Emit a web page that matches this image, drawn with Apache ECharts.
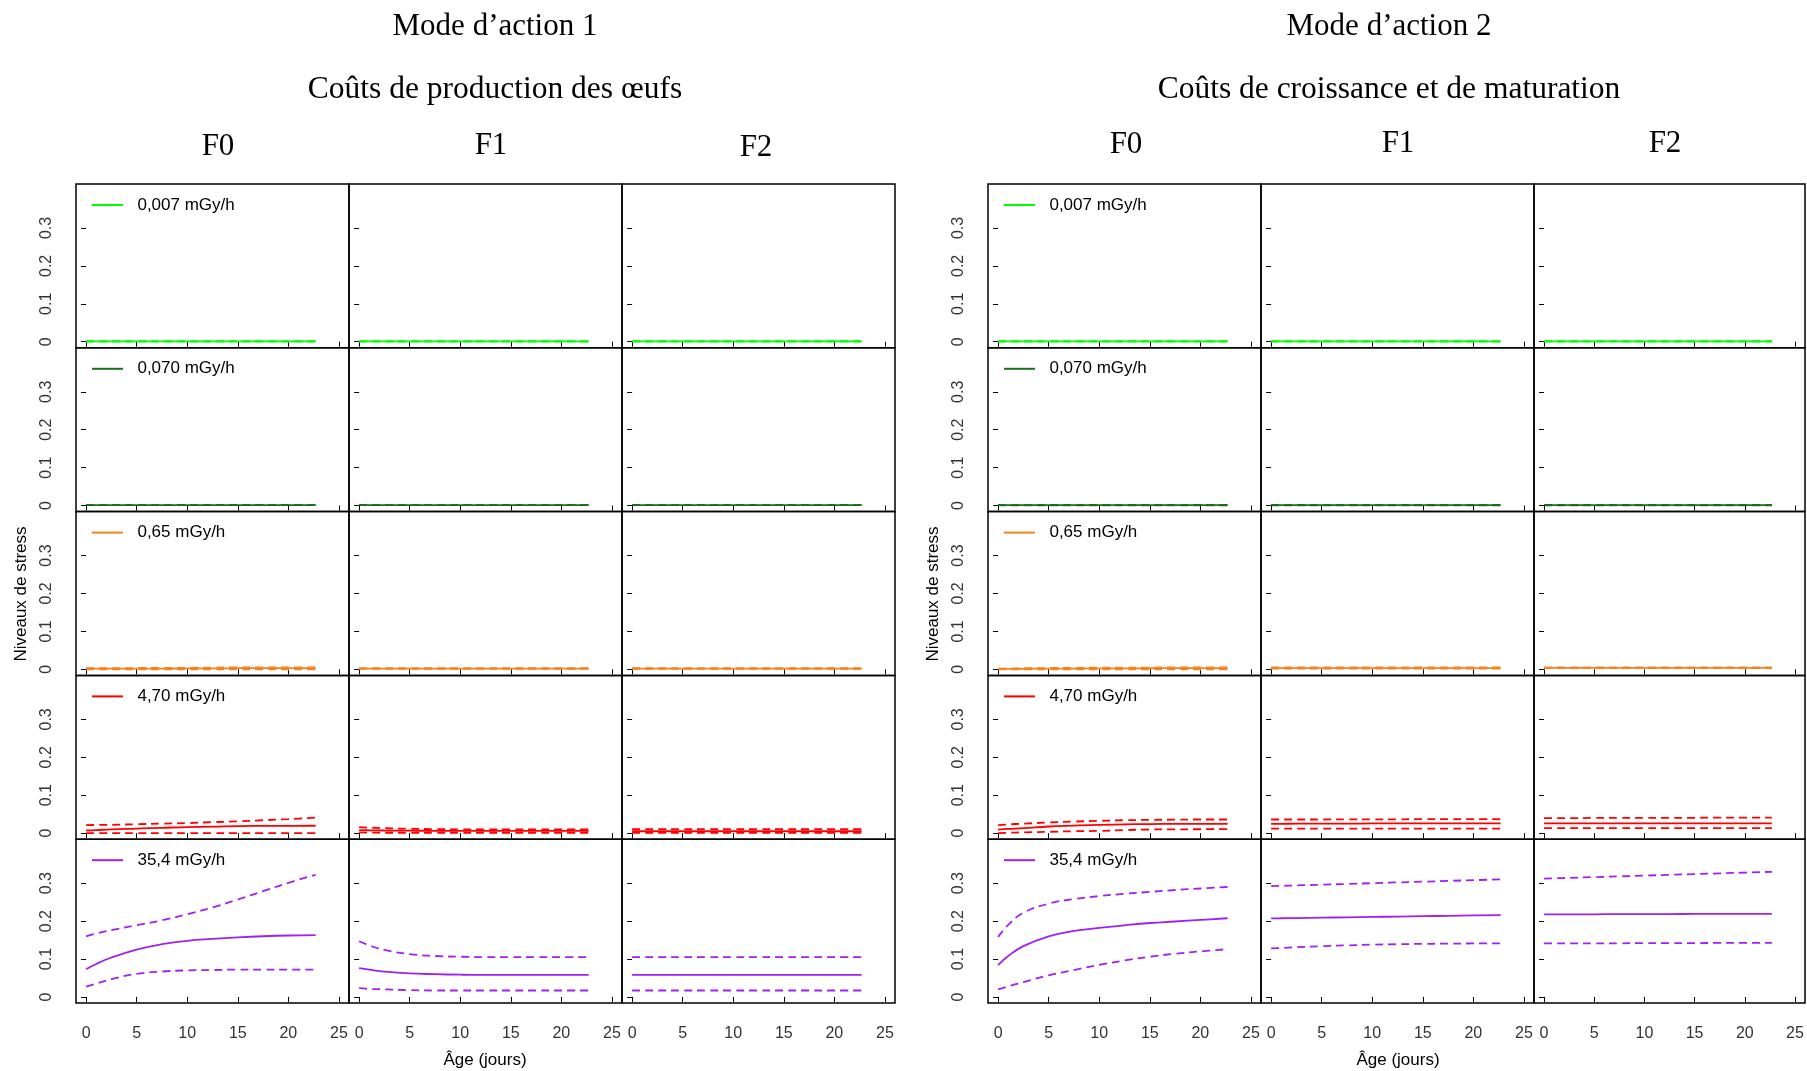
<!DOCTYPE html>
<html><head><meta charset="utf-8">
<script src="https://cdn.jsdelivr.net/npm/echarts@6/dist/echarts.min.js"></script>
<style>html,body{margin:0;padding:0;background:#fff}#c{width:1807px;height:1071px}</style>
</head><body><div id="c"></div><script>
// ---------- categories / labels ----------
var ages = [0, 1, 2.5, 5, 7.5, 10, 12.5, 15, 17.5, 20, 22.7];
var doses = ['0,007 mGy/h', '0,070 mGy/h', '0,65 mGy/h', '4,70 mGy/h', '35,4 mGy/h'];
var doseColors = ['#00ff00', '#1b6e1b', '#f5821f', '#ff0000', '#a020f0'];
var generations = ['F0', 'F1', 'F2'];
var modeTitles = ['Mode d\u2019action 1', 'Mode d\u2019action 2'];
var modeSubtitles = ['Coûts de production des œufs', 'Coûts de croissance et de maturation'];
var xTicks = [0, 5, 10, 15, 20, 25];
var yTicks = [0, 0.1, 0.2, 0.3];
var xName = 'Âge (jours)';
var yName = 'Niveaux de stress';

// ---------- Mode 1 ----------
var m1_d1_F0_mid = [0.001,0.001,0.001,0.001,0.001,0.001,0.001,0.001,0.001,0.001,0.001];
var m1_d1_F0_lo  = [0.001,0.001,0.001,0.001,0.001,0.001,0.001,0.001,0.001,0.001,0.001];
var m1_d1_F0_hi  = [0.001,0.001,0.001,0.001,0.001,0.001,0.001,0.001,0.001,0.001,0.001];
var m1_d1_F1_mid = [0.001,0.001,0.001,0.001,0.001,0.001,0.001,0.001,0.001,0.001,0.001];
var m1_d1_F1_lo  = [0.001,0.001,0.001,0.001,0.001,0.001,0.001,0.001,0.001,0.001,0.001];
var m1_d1_F1_hi  = [0.001,0.001,0.001,0.001,0.001,0.001,0.001,0.001,0.001,0.001,0.001];
var m1_d1_F2_mid = [0.001,0.001,0.001,0.001,0.001,0.001,0.001,0.001,0.001,0.001,0.001];
var m1_d1_F2_lo  = [0.001,0.001,0.001,0.001,0.001,0.001,0.001,0.001,0.001,0.001,0.001];
var m1_d1_F2_hi  = [0.001,0.001,0.001,0.001,0.001,0.001,0.001,0.001,0.001,0.001,0.001];

var m1_d2_F0_mid = [0.001,0.001,0.001,0.001,0.001,0.001,0.001,0.001,0.001,0.001,0.001];
var m1_d2_F0_lo  = [0.001,0.001,0.001,0.001,0.001,0.001,0.001,0.001,0.001,0.001,0.001];
var m1_d2_F0_hi  = [0.001,0.001,0.001,0.001,0.001,0.0012,0.0014,0.0016,0.0018,0.002,0.002];
var m1_d2_F1_mid = [0.001,0.001,0.001,0.001,0.001,0.001,0.001,0.001,0.001,0.001,0.001];
var m1_d2_F1_lo  = [0.001,0.001,0.001,0.001,0.001,0.001,0.001,0.001,0.001,0.001,0.001];
var m1_d2_F1_hi  = [0.001,0.001,0.001,0.001,0.001,0.001,0.001,0.001,0.001,0.001,0.001];
var m1_d2_F2_mid = [0.001,0.001,0.001,0.001,0.001,0.001,0.001,0.001,0.001,0.001,0.001];
var m1_d2_F2_lo  = [0.001,0.001,0.001,0.001,0.001,0.001,0.001,0.001,0.001,0.001,0.001];
var m1_d2_F2_hi  = [0.001,0.001,0.001,0.001,0.001,0.001,0.001,0.001,0.001,0.001,0.001];

var m1_d3_F0_mid = [0.002,0.002,0.002,0.002,0.002,0.0025,0.0025,0.003,0.003,0.003,0.003];
var m1_d3_F0_lo  = [0.000,0.000,0.000,0.000,0.000,0.000,0.000,0.000,0.000,0.000,0.000];
var m1_d3_F0_hi  = [0.003,0.003,0.003,0.0035,0.004,0.004,0.0045,0.005,0.005,0.005,0.005];
var m1_d3_F1_mid = [0.002,0.002,0.002,0.002,0.002,0.002,0.002,0.002,0.002,0.002,0.002];
var m1_d3_F1_lo  = [0.001,0.001,0.001,0.001,0.001,0.001,0.001,0.001,0.001,0.001,0.001];
var m1_d3_F1_hi  = [0.003,0.003,0.003,0.003,0.003,0.003,0.003,0.003,0.003,0.003,0.003];
var m1_d3_F2_mid = [0.002,0.002,0.002,0.002,0.002,0.002,0.002,0.002,0.002,0.002,0.002];
var m1_d3_F2_lo  = [0.001,0.001,0.001,0.001,0.001,0.001,0.001,0.001,0.001,0.001,0.001];
var m1_d3_F2_hi  = [0.003,0.003,0.003,0.003,0.003,0.003,0.003,0.003,0.003,0.003,0.003];

var m1_d4_F0_mid = [0.007,0.008,0.010,0.012,0.014,0.016,0.017,0.0186,0.019,0.0193,0.0195];
var m1_d4_F0_lo  = [0.000,0.000,0.000,0.000,0.000,0.000,0.000,0.000,0.000,0.000,0.000];
var m1_d4_F0_hi  = [0.021,0.0215,0.022,0.0235,0.025,0.0265,0.029,0.031,0.034,0.037,0.041];
var m1_d4_F1_mid = [0.008,0.0075,0.007,0.0065,0.006,0.006,0.006,0.006,0.006,0.006,0.006];
var m1_d4_F1_lo  = [0.002,0.0015,0.001,0.001,0.001,0.001,0.001,0.001,0.001,0.001,0.001];
var m1_d4_F1_hi  = [0.016,0.0145,0.013,0.0115,0.0105,0.010,0.010,0.010,0.010,0.010,0.010];
var m1_d4_F2_mid = [0.005,0.005,0.005,0.005,0.005,0.005,0.005,0.005,0.005,0.005,0.005];
var m1_d4_F2_lo  = [0.001,0.001,0.001,0.001,0.001,0.001,0.001,0.001,0.001,0.001,0.001];
var m1_d4_F2_hi  = [0.0105,0.0105,0.0105,0.0105,0.0105,0.0105,0.0105,0.0105,0.0105,0.0105,0.0105];

var m1_d5_F0_mid = [0.073,0.087,0.104,0.125,0.139,0.148,0.153,0.157,0.160,0.162,0.163];
var m1_d5_F0_lo  = [0.027,0.035,0.047,0.061,0.067,0.070,0.071,0.072,0.072,0.072,0.072];
var m1_d5_F0_hi  = [0.160,0.167,0.176,0.189,0.202,0.218,0.236,0.257,0.279,0.301,0.322];
var m1_d5_F1_mid = [0.076,0.072,0.067,0.062,0.060,0.0586,0.058,0.058,0.058,0.058,0.058];
var m1_d5_F1_lo  = [0.023,0.021,0.020,0.018,0.017,0.017,0.017,0.017,0.017,0.017,0.017];
var m1_d5_F1_hi  = [0.147,0.136,0.124,0.113,0.108,0.106,0.105,0.105,0.105,0.105,0.105];
var m1_d5_F2_mid = [0.058,0.058,0.058,0.058,0.058,0.058,0.058,0.058,0.058,0.058,0.058];
var m1_d5_F2_lo  = [0.017,0.017,0.017,0.017,0.017,0.017,0.017,0.017,0.017,0.017,0.017];
var m1_d5_F2_hi  = [0.105,0.105,0.105,0.105,0.105,0.105,0.105,0.105,0.105,0.105,0.105];

// ---------- Mode 2 ----------
var m2_d1_F0_mid = [0.001,0.001,0.001,0.001,0.001,0.001,0.001,0.001,0.001,0.001,0.001];
var m2_d1_F0_lo  = [0.001,0.001,0.001,0.001,0.001,0.001,0.001,0.001,0.001,0.001,0.001];
var m2_d1_F0_hi  = [0.001,0.001,0.001,0.001,0.001,0.001,0.001,0.001,0.001,0.001,0.001];
var m2_d1_F1_mid = [0.001,0.001,0.001,0.001,0.001,0.001,0.001,0.001,0.001,0.001,0.001];
var m2_d1_F1_lo  = [0.001,0.001,0.001,0.001,0.001,0.001,0.001,0.001,0.001,0.001,0.001];
var m2_d1_F1_hi  = [0.001,0.001,0.001,0.001,0.001,0.001,0.001,0.001,0.001,0.001,0.001];
var m2_d1_F2_mid = [0.001,0.001,0.001,0.001,0.001,0.001,0.001,0.001,0.001,0.001,0.001];
var m2_d1_F2_lo  = [0.001,0.001,0.001,0.001,0.001,0.001,0.001,0.001,0.001,0.001,0.001];
var m2_d1_F2_hi  = [0.001,0.001,0.001,0.001,0.001,0.001,0.001,0.001,0.001,0.001,0.001];

var m2_d2_F0_mid = [0.001,0.001,0.001,0.001,0.001,0.001,0.001,0.001,0.001,0.001,0.001];
var m2_d2_F0_lo  = [0.0005,0.0005,0.0005,0.0005,0.0005,0.0005,0.0005,0.0005,0.0005,0.0005,0.0005];
var m2_d2_F0_hi  = [0.001,0.001,0.0012,0.0015,0.0017,0.0018,0.002,0.002,0.002,0.002,0.002];
var m2_d2_F1_mid = [0.001,0.001,0.001,0.001,0.001,0.001,0.001,0.001,0.001,0.001,0.001];
var m2_d2_F1_lo  = [0.0005,0.0005,0.0005,0.0005,0.0005,0.0005,0.0005,0.0005,0.0005,0.0005,0.0005];
var m2_d2_F1_hi  = [0.002,0.002,0.002,0.002,0.002,0.002,0.002,0.002,0.002,0.002,0.002];
var m2_d2_F2_mid = [0.001,0.001,0.001,0.001,0.001,0.001,0.001,0.001,0.001,0.001,0.001];
var m2_d2_F2_lo  = [0.0005,0.0005,0.0005,0.0005,0.0005,0.0005,0.0005,0.0005,0.0005,0.0005,0.0005];
var m2_d2_F2_hi  = [0.002,0.002,0.002,0.002,0.002,0.002,0.002,0.002,0.002,0.002,0.002];

var m2_d3_F0_mid = [0.001,0.0012,0.0015,0.002,0.0022,0.0025,0.0027,0.0028,0.003,0.003,0.003];
var m2_d3_F0_lo  = [0.000,0.000,0.000,0.000,0.000,0.000,0.000,0.000,0.000,0.000,0.000];
var m2_d3_F0_hi  = [0.002,0.0025,0.003,0.0035,0.004,0.0042,0.0045,0.0047,0.005,0.005,0.005];
var m2_d3_F1_mid = [0.003,0.003,0.003,0.003,0.003,0.003,0.003,0.003,0.003,0.003,0.003];
var m2_d3_F1_lo  = [0.002,0.002,0.002,0.002,0.002,0.002,0.002,0.002,0.002,0.002,0.002];
var m2_d3_F1_hi  = [0.005,0.005,0.005,0.005,0.005,0.005,0.005,0.005,0.005,0.005,0.005];
var m2_d3_F2_mid = [0.004,0.004,0.004,0.004,0.004,0.004,0.004,0.004,0.004,0.004,0.004];
var m2_d3_F2_lo  = [0.003,0.003,0.003,0.003,0.003,0.003,0.003,0.003,0.003,0.003,0.003];
var m2_d3_F2_hi  = [0.005,0.005,0.005,0.005,0.005,0.005,0.005,0.005,0.005,0.005,0.005];

var m2_d4_F0_mid = [0.009,0.011,0.013,0.0175,0.020,0.022,0.023,0.024,0.0243,0.0245,0.0245];
var m2_d4_F0_lo  = [0.000,0.001,0.002,0.0035,0.005,0.006,0.008,0.0096,0.010,0.0103,0.0105];
var m2_d4_F0_hi  = [0.021,0.023,0.025,0.028,0.0305,0.0325,0.034,0.035,0.0355,0.036,0.036];
var m2_d4_F1_mid = [0.0245,0.0245,0.025,0.025,0.025,0.0255,0.0255,0.026,0.026,0.026,0.026];
var m2_d4_F1_lo  = [0.012,0.012,0.012,0.012,0.012,0.012,0.012,0.012,0.012,0.012,0.012];
var m2_d4_F1_hi  = [0.036,0.036,0.036,0.036,0.0365,0.0365,0.0365,0.037,0.037,0.037,0.037];
var m2_d4_F2_mid = [0.026,0.026,0.026,0.026,0.026,0.026,0.026,0.026,0.026,0.026,0.026];
var m2_d4_F2_lo  = [0.013,0.013,0.013,0.013,0.013,0.013,0.013,0.013,0.013,0.013,0.013];
var m2_d4_F2_hi  = [0.0395,0.0395,0.0395,0.040,0.040,0.040,0.0405,0.0405,0.041,0.041,0.041];

var m2_d5_F0_mid = [0.084,0.108,0.134,0.160,0.174,0.182,0.189,0.195,0.199,0.203,0.2075];
var m2_d5_F0_lo  = [0.020,0.028,0.039,0.057,0.071,0.0845,0.096,0.106,0.114,0.120,0.126];
var m2_d5_F0_hi  = [0.158,0.190,0.222,0.246,0.258,0.266,0.272,0.277,0.282,0.286,0.290];
var m2_d5_F1_mid = [0.207,0.2075,0.208,0.209,0.210,0.211,0.212,0.213,0.214,0.215,0.216];
var m2_d5_F1_lo  = [0.128,0.129,0.131,0.134,0.136,0.138,0.139,0.140,0.1405,0.141,0.141];
var m2_d5_F1_hi  = [0.292,0.293,0.294,0.296,0.298,0.300,0.302,0.304,0.306,0.308,0.310];
var m2_d5_F2_mid = [0.218,0.218,0.218,0.218,0.2185,0.2185,0.2185,0.219,0.219,0.219,0.219];
var m2_d5_F2_lo  = [0.141,0.141,0.141,0.1415,0.1415,0.142,0.142,0.142,0.1425,0.1425,0.1425];
var m2_d5_F2_hi  = [0.312,0.313,0.314,0.316,0.318,0.320,0.322,0.324,0.326,0.328,0.330];

(function () {
  var colLefts = [76, 349, 622, 988, 1261, 1534];
  var colWidths = [273, 273, 273, 273, 273, 271];
  var rowTop0 = 184, rowH = 163.8;
  var SANS = '"Liberation Sans", Arial, sans-serif';
  var SERIF = '"Liberation Serif", "DejaVu Serif", serif';

  var grids = [], xAxes = [], yAxes = [], series = [], legends = [];
  for (var m = 0; m < 2; m++) {
    for (var d = 0; d < 5; d++) {
      for (var g = 0; g < 3; g++) {
        var gi = grids.length;
        var col = m * 3 + g;
        var topY = rowTop0 + rowH * d;
        grids.push({left: colLefts[col], top: topY, width: colWidths[col], height: rowH,
          show: true, borderColor: '#000', borderWidth: 1.5, backgroundColor: 'transparent'});
        xAxes.push({type: 'value', gridIndex: gi, min: -1, max: 26,
          axisLine: {show: false}, splitLine: {show: false},
          axisTick: {show: true, customValues: xTicks, length: 5, lineStyle: {color: '#000', width: 1}},
          axisLabel: {show: d === 4, customValues: xTicks, fontSize: 16, color: '#333', fontFamily: SANS, margin: 23}});
        yAxes.push({type: 'value', gridIndex: gi, min: -0.016, max: 0.416,
          axisLine: {show: false}, splitLine: {show: false},
          axisTick: {show: true, customValues: yTicks, length: 5, lineStyle: {color: '#000', width: 1}},
          axisLabel: {show: g === 0, customValues: yTicks, rotate: 90, fontSize: 16, color: '#333', fontFamily: SANS, margin: 21,
            formatter: function (v) { return v === 0 ? '0' : v.toFixed(1); }}});
        var base = 'm' + (m + 1) + '_d' + (d + 1) + '_F' + g + '_';
        var parts = [['hi', 'dashed'], ['lo', 'dashed'], ['mid', 'solid']];
        for (var p = 0; p < 3; p++) {
          var arr = window[base + parts[p][0]];
          var isMid = parts[p][1] === 'solid';
          series.push({type: 'line', name: isMid ? doses[d] : doses[d] + ' IC', xAxisIndex: gi, yAxisIndex: gi,
            data: ages.map(function (a, i) { return [a, arr[i]]; }),
            symbol: 'none', smooth: 0.45, silent: true, animation: false,
            itemStyle: {color: doseColors[d]},
            lineStyle: {color: doseColors[d], width: 1.8, type: isMid ? 'solid' : [8, 5]}});
        }
      }
      legends.push({left: colLefts[m * 3] + 1.5, top: rowTop0 + rowH * d + 1.5, orient: 'horizontal',
        padding: [11, 4, 12, 14.5], itemWidth: 31, itemHeight: 2, icon: 'rect',
        data: [doses[d]], backgroundColor: '#fff', selectedMode: false, z: 6,
        formatter: function (n) { return '  ' + n; },
        textStyle: {fontSize: 17, color: '#000', fontFamily: SANS}});
    }
  }

  function txt(x, y, s, font, rot) {
    return {type: 'text', x: x, y: y, rotation: rot || 0, z: 10,
      style: {text: s, font: font, fill: '#000', align: 'center', verticalAlign: 'middle',
        textAlign: 'center', textVerticalAlign: 'middle'}};
  }
  var titleX = [495, 1389];
  var genX = [[218, 491, 756], [1126, 1398, 1665]];
  var genY = [[147, 146, 148], [145, 144, 144]];
  var graphics = [];
  for (var k = 0; k < 2; k++) {
    graphics.push(txt(titleX[k], 27, modeTitles[k], '31px ' + SERIF));
    graphics.push(txt(titleX[k], 90, modeSubtitles[k], '31.5px ' + SERIF));
    for (var j = 0; j < 3; j++) graphics.push(txt(genX[k][j], genY[k][j], generations[j], '31px ' + SERIF));
  }
  graphics.push(txt(485, 1060, xName, '17px ' + SANS));
  graphics.push(txt(1398, 1060, xName, '17px ' + SANS));
  graphics.push(txt(21, 594, yName, '17px ' + SANS, Math.PI / 2));
  graphics.push(txt(933, 594, yName, '17px ' + SANS, Math.PI / 2));

  var chart = echarts.init(document.getElementById('c'), null, {renderer: 'canvas'});
  chart.setOption({
    animation: false,
    backgroundColor: '#fff',
    grid: grids, xAxis: xAxes, yAxis: yAxes, series: series, legend: legends,
    graphic: graphics
  });
})();
</script></body></html>
